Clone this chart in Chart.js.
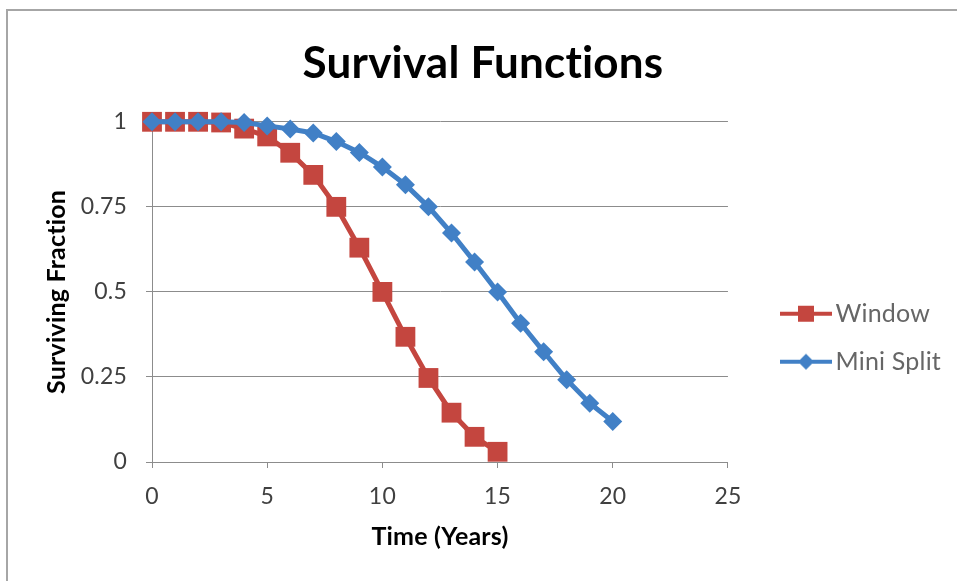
<!DOCTYPE html>
<html lang="en">
<head>
  <meta charset="UTF-8">
  <title>Survival Functions</title>
  <script src="https://cdn.jsdelivr.net/npm/chart.js"></script>
  <style>
    body {
      margin: 0;
      background: #fff;
      overflow: hidden;
    }

    .wrap {
      position: relative;
      width: 957px;
      height: 581px;
    }

    .frame {
      position: absolute;
      left: 6px;
      top: 9px;
      right: -10px;
      bottom: -10px;
      border-top: 2px solid #a6a6a6;
      border-left: 2px solid #a6a6a6;
      pointer-events: none;
    }
  </style>
</head>
<body>
  <div class="wrap">
    <canvas id="survivalChart" width="957" height="581"></canvas>
    <div class="frame"></div>
  </div>

  <script>
    // values
    const windowYears = [0, 1, 2, 3, 4, 5, 6, 7, 8, 9, 10, 11, 12, 13, 14, 15];
    const windowSurvival = [1, 1, 1, 0.998, 0.98, 0.957, 0.909, 0.844, 0.75, 0.63, 0.5, 0.368, 0.247, 0.145, 0.074, 0.03];

    const miniSplitYears = [0, 1, 2, 3, 4, 5, 6, 7, 8, 9, 10, 11, 12, 13, 14, 15, 16, 17, 18, 19, 20];
    const miniSplitSurvival = [1, 1, 1, 1, 0.998, 0.988, 0.979, 0.967, 0.942, 0.91, 0.867, 0.815, 0.75, 0.673, 0.588, 0.5, 0.408, 0.324, 0.242, 0.173, 0.119];

    const xTicks = [0, 5, 10, 15, 20, 25];
    const yTicks = [0, 0.25, 0.5, 0.75, 1];

    const RED = '#c4463f';
    const BLUE = '#4180c6';
    const GRID = '#8c8c8c';
    const FONT = 'Lato';

    function toPoints(xs, ys) {
      return xs.map((x, i) => ({ x: x, y: ys[i] }));
    }

    // small legend icon: line with the marker in the middle
    function legendIcon(color, style) {
      const c = document.createElement('canvas');
      c.width = 90;
      c.height = 24;
      const g = c.getContext('2d');
      g.strokeStyle = color;
      g.lineWidth = 4;
      g.beginPath();
      g.moveTo(38, 12);
      g.lineTo(90, 12);
      g.stroke();
      g.fillStyle = color;
      if (style === 'rect') {
        g.fillRect(64 - 8, 12 - 8, 16, 16);
      } else {
        g.beginPath();
        g.moveTo(64, 12 - 8);
        g.lineTo(64 + 8, 12);
        g.lineTo(64, 12 + 8);
        g.lineTo(64 - 8, 12);
        g.closePath();
        g.fill();
      }
      return c;
    }

    const icons = [legendIcon(RED, 'rect'), legendIcon(BLUE, 'diamond')];

    // tiny letter spacing keeps the "ti" in the title from turning into a ligature
    const noLigatures = {
      id: 'noLigatures',
      beforeDraw(chart) {
        chart.ctx.letterSpacing = '0.2px';
      }
    };

    const ctx = document.getElementById('survivalChart').getContext('2d');

    new Chart(ctx, {
      type: 'line',
      data: {
        datasets: [
          {
            label: 'Window',
            data: toPoints(windowYears, windowSurvival),
            borderColor: RED,
            backgroundColor: RED,
            borderWidth: 5,
            pointStyle: 'rect',
            pointRadius: 14,
            pointBorderWidth: 0,
            pointBackgroundColor: RED,
            clip: false,
            order: 1
          },
          {
            label: 'Mini Split',
            data: toPoints(miniSplitYears, miniSplitSurvival),
            borderColor: BLUE,
            backgroundColor: BLUE,
            borderWidth: 5,
            pointStyle: 'rectRot',
            pointRadius: 9.5,
            pointBorderWidth: 0,
            pointBackgroundColor: BLUE,
            clip: false,
            order: 0
          }
        ]
      },
      plugins: [noLigatures],
      options: {
        responsive: false,
        animation: false,
        layout: {
          padding: { left: 17, right: 8, top: 0, bottom: 0 }
        },
        scales: {
          x: {
            type: 'linear',
            min: 0,
            max: 25,
            afterBuildTicks: (scale) => { scale.ticks = xTicks.map(v => ({ value: v })); },
            afterFit: (scale) => { scale.height = 119; },
            grid: { drawOnChartArea: false, drawTicks: true, tickLength: 6, color: GRID },
            border: { color: GRID, width: 1 },
            ticks: { color: '#404040', font: { family: FONT, size: 23 }, padding: 15 },
            title: {
              display: true,
              text: 'Time (Years)',
              color: '#000',
              font: { family: FONT, size: 25, weight: 'bold' },
              padding: { top: 0, bottom: 29 }
            }
          },
          y: {
            min: 0,
            max: 1,
            afterBuildTicks: (scale) => { scale.ticks = yTicks.map(v => ({ value: v })); },
            afterFit: (scale) => { scale.width = 135; },
            grid: { color: GRID, tickLength: 6 },
            border: { color: GRID, width: 1 },
            ticks: {
              color: '#404040',
              font: { family: FONT, size: 23 },
              padding: 19,
              callback: (v) => String(v)
            },
            title: {
              display: true,
              text: 'Surviving Fraction',
              color: '#000',
              font: { family: FONT, size: 25, weight: 'bold' },
              padding: { top: 25, bottom: 0 }
            }
          }
        },
        plugins: {
          title: {
            display: true,
            text: 'Survival Functions',
            color: '#000',
            font: { family: FONT, size: 44, weight: 'bold' },
            padding: { top: 37, bottom: 32 }
          },
          legend: {
            position: 'right',
            title: { display: true, text: '', padding: 40 },
            labels: {
              usePointStyle: true,
              pointStyleWidth: 72,
              padding: 23,
              color: '#262626',
              font: { family: FONT, size: 25 },
              generateLabels: (chart) => chart.data.datasets.map((ds, i) => ({
                text: ds.label,
                pointStyle: icons[i],
                fillStyle: ds.borderColor,
                strokeStyle: ds.borderColor,
                lineWidth: 0,
                datasetIndex: i,
                hidden: false
              }))
            }
          },
          tooltip: { enabled: false }
        }
      }
    });
  </script>
</body>
</html>
